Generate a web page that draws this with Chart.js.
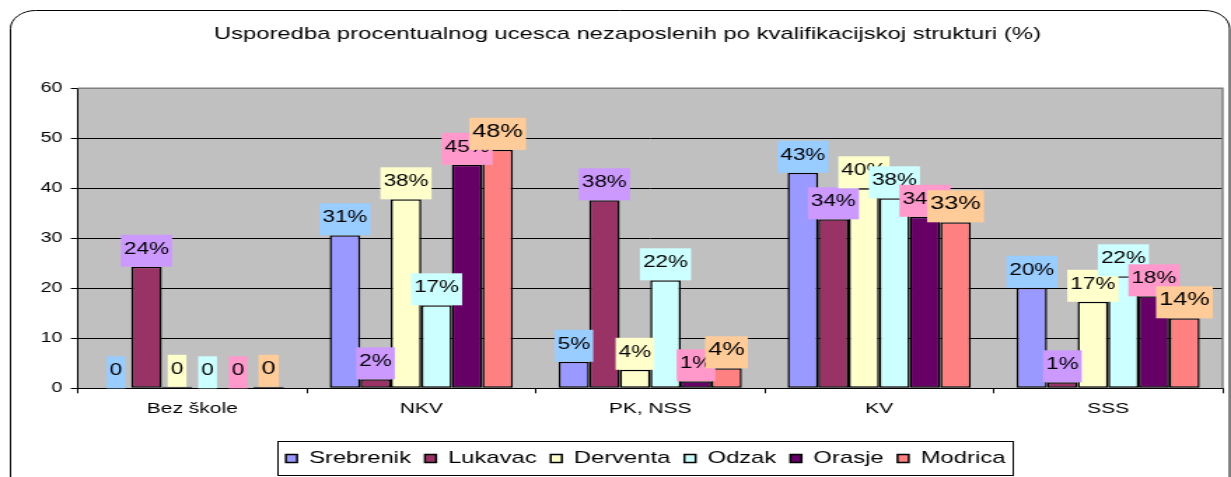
<!DOCTYPE html>
<html>
<head>
<meta charset="utf-8">
<script src="https://cdn.jsdelivr.net/npm/chart.js@4.4.0/dist/chart.umd.min.js"></script>
<style>
  html, body { margin: 0; padding: 0; background: #fff; }
</style>
</head>
<body>
<!-- the original picture is stretched sideways, so the canvas is drawn narrow and widened -->
<canvas id="chart" width="879" height="477" style="display:block;width:1231px;height:477px"></canvas>
<script>
// data
const categories = ["Bez škole", "NKV", "PK, NSS", "KV", "SSS"];
const srebrenik = [0, 30.6, 5.3, 43.1, 20.1];
const lukavac = [24.3, 1.8, 37.6, 33.8, 1.2];
const derventa = [0.3, 37.8, 3.7, 40.0, 17.3];
const odzak = [0, 16.6, 21.6, 38.0, 22.4];
const orasje = [0, 44.7, 1.4, 34.3, 18.4];
const modrica = [0.3, 47.7, 4.0, 33.2, 14.0];
const yTicks = [0, 10, 20, 30, 40, 50, 60];

const FONT = "'Liberation Sans', Arial, sans-serif";
Chart.defaults.font.family = FONT;
Chart.defaults.color = "#000";

const series = [
  { label: "Srebrenik", data: srebrenik, color: "#9999FF", labelBg: "#99CCFF", labelSize: 16 },
  { label: "Lukavac", data: lukavac, color: "#993366", labelBg: "#CC99FF", labelSize: 16 },
  { label: "Derventa", data: derventa, color: "#FFFFCC", labelBg: "#FFFFCC", labelSize: 16 },
  { label: "Odzak", data: odzak, color: "#CCFFFF", labelBg: "#CCFFFF", labelSize: 16 },
  { label: "Orasje", data: orasje, color: "#660066", labelBg: "#FF99CC", labelSize: 16 },
  { label: "Modrica", data: modrica, color: "#FF8080", labelBg: "#FFCC99", labelSize: 18 },
];

const roundedRect = (ctx, x, y, w, h, r) => {
  ctx.beginPath();
  ctx.moveTo(x + r, y);
  ctx.arcTo(x + w, y, x + w, y + h, r);
  ctx.arcTo(x + w, y + h, x, y + h, r);
  ctx.arcTo(x, y + h, x, y, r);
  ctx.arcTo(x, y, x + w, y, r);
  ctx.closePath();
};

// outer frame, grey plot area, legend box
const frame = {
  id: "frame",
  afterLayout(chart) {
    // legend sits a bit right of the middle in the original
    chart.legend.left += 26;
  },
  beforeDraw(chart) {
    const { ctx, chartArea: a } = chart;
    ctx.save();
    ctx.strokeStyle = "#000";
    ctx.lineWidth = 1;
    roundedRect(ctx, 7.5, 10.5, 870.5, 490, 18);
    ctx.stroke();
    ctx.fillStyle = "#C0C0C0";
    ctx.fillRect(a.left, a.top, a.right - a.left, a.bottom - a.top);
    ctx.restore();
  },
  afterDraw(chart) {
    const { ctx, chartArea: a, legend } = chart;
    ctx.save();
    ctx.strokeStyle = "#808080";
    ctx.lineWidth = 1.5;
    ctx.beginPath();
    ctx.moveTo(a.left, a.top);
    ctx.lineTo(a.right, a.top);
    ctx.lineTo(a.right, a.bottom);
    ctx.stroke();

    const hb = legend.legendHitBoxes;
    const l = Math.min(...hb.map((h) => h.left)) - 6;
    const r = Math.max(...hb.map((h) => h.left + h.width)) + 5;
    const t = hb[0].top - 9;
    ctx.strokeStyle = "#000";
    ctx.lineWidth = 1;
    ctx.strokeRect(Math.round(l) + 0.5, Math.round(t) + 0.5, Math.round(r - l), Math.round(hb[0].height + 17));
    ctx.restore();
  },
};

// value boxes above the bars
const barLabels = {
  id: "barLabels",
  afterDatasetsDraw(chart) {
    const ctx = chart.ctx;
    chart.data.datasets.forEach((ds, i) => {
      const meta = chart.getDatasetMeta(i);
      meta.data.forEach((bar, j) => {
        const v = ds.data[j];
        const txt = v < 0.5 ? "0" : Math.round(v) + "%";
        ctx.save();
        ctx.font = ds.labelSize + "px " + FONT;
        const w = ctx.measureText(txt).width + 4.5;
        const bottom = bar.y;
        ctx.fillStyle = ds.labelBg;
        ctx.fillRect(bar.x - w / 2, bottom - 32, w, 32);
        ctx.fillStyle = "#000";
        ctx.textAlign = "center";
        ctx.textBaseline = "alphabetic";
        ctx.fillText(txt, bar.x, bottom - 13);
        ctx.restore();
      });
    });
  },
};

new Chart(document.querySelector("#chart").getContext("2d"), {
  type: "bar",
  data: {
    labels: categories,
    datasets: series.map((s) => ({
      label: s.label,
      data: s.data,
      backgroundColor: s.color,
      borderColor: "#000",
      borderWidth: 1.5,
      borderSkipped: false,
      labelBg: s.labelBg,
      labelSize: s.labelSize,
      categoryPercentage: 0.8,
      barPercentage: 1.0,
    })),
  },
  options: {
    responsive: false,
    animation: false,
    devicePixelRatio: 1,
    events: [],
    layout: {
      padding: { top: 24.5, left: 23, right: 6, bottom: 0 },
    },
    plugins: {
      title: {
        display: true,
        text: "Usporedba procentualnog ucesca nezaposlenih po kvalifikacijskoj strukturi (%)",
        color: "#000",
        font: { size: 17, weight: "normal" },
        padding: { top: 0, bottom: 43.4 },
      },
      legend: {
        display: true,
        position: "bottom",
        labels: {
          boxWidth: 8,
          boxHeight: 8,
          padding: 10,
          color: "#000",
          font: { size: 17 },
        },
      },
      tooltip: { enabled: false },
    },
    scales: {
      x: {
        grid: {
          display: true,
          drawOnChartArea: false,
          drawTicks: true,
          tickLength: 5,
          color: "#000",
          offset: true,
        },
        border: { display: true, color: "#000", width: 1 },
        ticks: { font: { size: 15 }, color: "#000", padding: 7 },
        afterFit: (scale) => {
          scale.height = 51.7;
        },
      },
      y: {
        min: yTicks[0],
        max: yTicks[yTicks.length - 1],
        ticks: {
          stepSize: yTicks[1] - yTicks[0],
          font: { size: 14 },
          color: "#000",
          padding: 6,
        },
        grid: { color: "#000", lineWidth: 1, tickLength: 5 },
        border: { display: true, color: "#000", width: 1 },
      },
    },
  },
  plugins: [frame, barLabels],
});
</script>
</body>
</html>
